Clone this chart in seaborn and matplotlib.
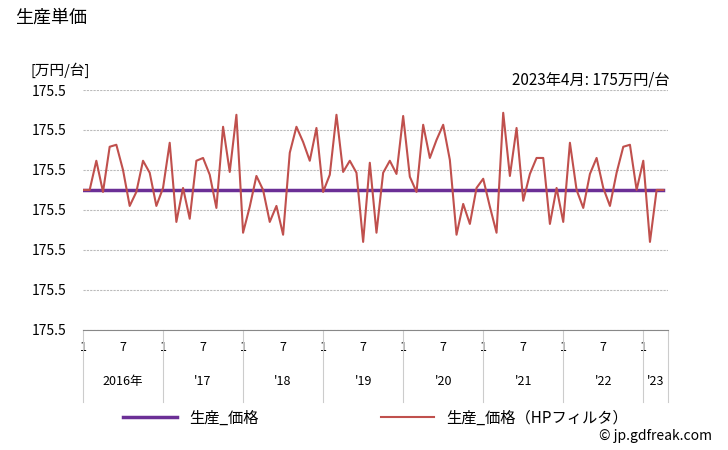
import matplotlib
matplotlib.use("Agg")
import matplotlib.pyplot as plt
import matplotlib.transforms as mtrans
import seaborn as sns
import pandas as pd
import numpy as np

plt.rcParams["font.family"] = "Noto Sans CJK JP"

hp_values = [175.0]*88
raw_values = [175.000, 175.000, 175.073, 174.995, 175.108, 175.113, 175.050, 174.960, 174.995, 175.073,
              175.043, 174.960, 175.005, 175.118, 174.920, 175.005, 174.928, 175.073, 175.080, 175.038,
              174.955, 175.158, 175.045, 175.188, 174.893, 174.958, 175.035, 175.000, 174.920, 174.960,
              174.888, 175.093, 175.158, 175.120, 175.073, 175.155, 174.995, 175.038, 175.188, 175.045,
              175.073, 175.043, 174.870, 175.068, 174.893, 175.043, 175.073, 175.040, 175.185, 175.033,
              174.995, 175.163, 175.080, 175.125, 175.163, 175.075, 174.888, 174.965, 174.915, 175.005,
              175.028, 174.958, 174.893, 175.193, 175.035, 175.155, 174.973, 175.040, 175.080, 175.080,
              174.915, 175.005, 174.920, 175.118, 175.000, 174.955, 175.040, 175.080, 175.005, 174.960,
              175.043, 175.108, 175.113, 175.000, 175.073, 174.870, 175.000, 175.000]
year_labels = ["2016年", "'17", "'18", "'19", "'20", "'21", "'22", "'23"]
month_ticks = ["1", "7"]
ytick_values = [175.25, 175.15, 175.05, 174.95, 174.85, 174.75, 174.65]
ytick_labels = ["175.5"]*7

n = len(raw_values)
df = pd.DataFrame({"t": np.arange(n), "hp": hp_values, "raw": raw_values})

fig = plt.figure(figsize=(7.28, 4.5), dpi=100)
ax = fig.add_axes([0.114, 0.267, 0.804, 0.533])
sns.lineplot(data=df, x="t", y="hp", ax=ax, color="#6b2f96", linewidth=2.5, label="生産_価格")
sns.lineplot(data=df, x="t", y="raw", ax=ax, color="#c0504d", linewidth=1.5, label="生産_価格（HPフィルタ）")
ax.set_xlim(0, 87.75)
ax.set_ylim(174.65, 175.25)
ax.set_yticks(ytick_values)
ax.set_yticklabels(ytick_labels, fontsize=10)
ax.yaxis.grid(True, color="#bbbbbb", linestyle=(0, (2, 1)), linewidth=0.8)
ax.tick_params(axis="y", length=0, pad=12)
for s in ["top", "right", "left"]:
    ax.spines[s].set_visible(False)
ax.spines["bottom"].set_color("#888888")
ax.set_xlabel(""); ax.set_ylabel("")

pos = []; labs = []
for y in range(len(year_labels)):
    for k, m in enumerate(month_ticks):
        p = y*12 + int(m) - 1
        if p < n:
            pos.append(p); labs.append(m)
ax.set_xticks(pos)
ax.set_xticklabels(labs, fontsize=9)
ax.tick_params(axis="x", length=0, pad=8)

tr = mtrans.blended_transform_factory(ax.transData, ax.transAxes)
for y, lab in enumerate(year_labels):
    start = y*12
    end = min(start + 12, 87.75)
    ax.plot([start, start], [0, -0.3], color="#cccccc", lw=0.8, transform=tr, clip_on=False)
    ax.text((start + end)/2, -0.215, lab, transform=tr, ha="center", va="center", fontsize=9)
ax.plot([87.75, 87.75], [0, -0.3], color="#cccccc", lw=0.8, transform=tr, clip_on=False)

fig.text(15/728, 1-18/450, "生産単価", fontsize=13, va="center")
fig.text(30/728, 1-70/450, "[万円/台]", fontsize=10.5, va="center")
fig.text(670/728, 1-80/450, "2023年4月: 175万円/台", fontsize=11, va="center", ha="right")
fig.text(712/728, 1-436/450, "© jp.gdfreak.com", fontsize=10, va="center", ha="right")

ax.legend(loc="center", bbox_to_anchor=(0.5, -0.367), ncol=2, frameon=False,
          fontsize=11, columnspacing=8, handlelength=3.5)

fig.savefig("out.png", dpi=100)
